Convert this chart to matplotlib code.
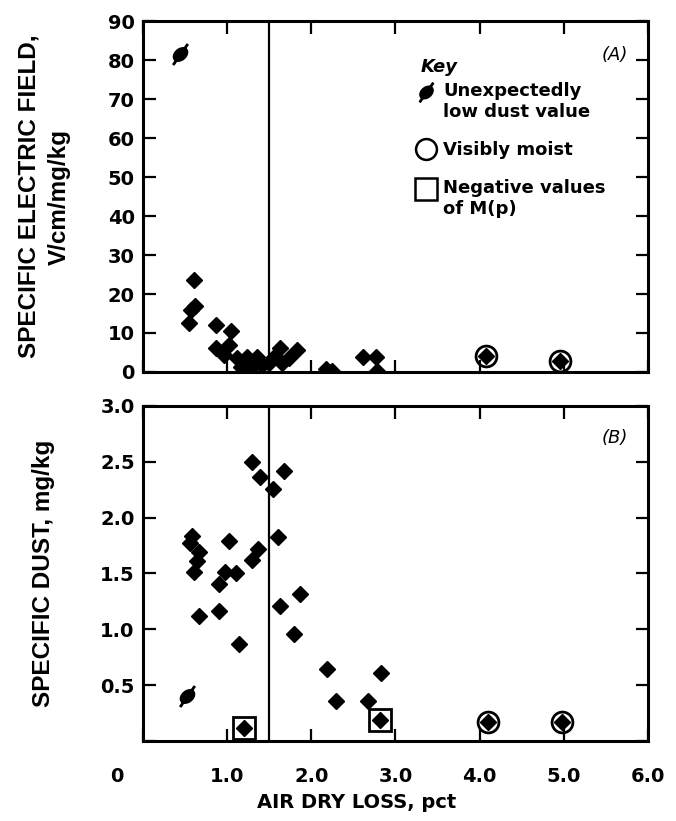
import numpy as np
import matplotlib.pyplot as plt
from matplotlib.path import Path
from matplotlib.lines import Line2D
from matplotlib.legend_handler import HandlerLine2D
import matplotlib.transforms as mtransforms

# --- Panel A: specific electric field, V/cm/mg/kg ---
field_x = [0.61, 0.57, 0.62, 0.55, 0.87, 1.04, 0.87, 1.02, 0.96, 1.12, 1.24,
           1.35, 1.16, 1.30, 1.42, 1.50, 1.56, 1.63, 1.65, 1.74, 1.83, 2.17,
           2.25, 2.62, 2.77, 2.78]
field_y = [23.5, 16, 17, 12.5, 12, 10.5, 6.2, 7.0, 4.4, 3.6, 3.9,
           3.9, 1.3, 1.3, 1.8, 2.3, 3.9, 6.1, 2.3, 3.6, 5.6, 0.8,
           0.2, 3.9, 3.9, 0.3]
field_low_x = [0.44]
field_low_y = [81.5]
field_moist_x = [4.07, 4.96]
field_moist_y = [4.0, 2.8]

# --- Panel B: specific dust, mg/kg ---
dust_x = [0.58, 0.56, 0.66, 0.64, 0.61, 0.66, 0.90, 0.90, 0.98, 1.02, 1.11,
          1.14, 1.30, 1.37, 1.30, 1.39, 1.55, 1.68, 1.60, 1.63, 1.86, 1.80,
          2.19, 2.29, 2.67, 2.83]
dust_y = [1.84, 1.77, 1.69, 1.61, 1.51, 1.12, 1.16, 1.41, 1.51, 1.79, 1.50,
          0.87, 1.62, 1.72, 2.50, 2.36, 2.26, 2.42, 1.83, 1.21, 1.32, 0.96,
          0.64, 0.36, 0.36, 0.61]
dust_low_x = [0.52]
dust_low_y = [0.40]
dust_neg_x = [1.20, 2.82]
dust_neg_y = [0.12, 0.19]
dust_moist_x = [4.10, 4.98]
dust_moist_y = [0.17, 0.17]

x_ticks = [0, 1, 2, 3, 4, 5, 6]
x_labels = ["0", "1.0", "2.0", "3.0", "4.0", "5.0", "6.0"]
field_ticks = [0, 10, 20, 30, 40, 50, 60, 70, 80, 90]
dust_ticks = [0, 0.5, 1.0, 1.5, 2.0, 2.5, 3.0]
dust_labels = ["", "0.5", "1.0", "1.5", "2.0", "2.5", "3.0"]
dry_loss_limit = 1.5

plt.rcParams["font.family"] = "DejaVu Sans"
plt.rcParams["font.weight"] = "bold"

# slashed oval symbol for "unexpectedly low dust value"
t = np.linspace(0, 2 * np.pi, 40)
oval = np.column_stack([np.cos(t), 0.7 * np.sin(t)])
rot = np.array([[np.cos(0.7), -np.sin(0.7)], [np.sin(0.7), np.cos(0.7)]])
oval = oval @ rot.T
slash = np.array([[-0.95, -1.2], [-0.8, -1.3], [0.95, 1.2], [0.8, 1.3], [-0.95, -1.2]])
slash_marker = Path.make_compound_path(Path(oval, closed=True), Path(slash, closed=True))

fig = plt.figure(figsize=(6.76, 8.21), dpi=100)
axA = fig.add_axes([0.2115, 0.547, 0.747, 0.427])
axB = fig.add_axes([0.2115, 0.0975, 0.747, 0.408])

diamond = dict(marker="D", ms=8, color="black", ls="none")

axA.plot(field_x, field_y, **diamond)
axA.plot(field_moist_x, field_moist_y, **diamond)
axA.plot(field_moist_x, field_moist_y, marker="o", ms=15, mfc="none", mec="black", mew=2, ls="none")
axA.plot(field_low_x, field_low_y, marker=slash_marker, ms=15, color="black", ls="none")

axB.plot(dust_x, dust_y, **diamond)
axB.plot(dust_neg_x, dust_neg_y, **diamond)
axB.plot(dust_neg_x, dust_neg_y, marker="s", ms=16, mfc="none", mec="black", mew=2, ls="none")
axB.plot(dust_moist_x, dust_moist_y, **diamond)
axB.plot(dust_moist_x, dust_moist_y, marker="o", ms=15, mfc="none", mec="black", mew=2, ls="none")
axB.plot(dust_low_x, dust_low_y, marker=slash_marker, ms=15, color="black", ls="none")

for ax in (axA, axB):
    ax.axvline(dry_loss_limit, color="black", lw=1.6)
    ax.set_xlim(0, 6)
    ax.set_xticks(x_ticks)
    for s in ax.spines.values():
        s.set_linewidth(2.2)
    ax.tick_params(direction="in", length=9, width=1.6, top=True, right=True,
                   labelsize=14, pad=6)

axA.set_ylim(0, 90)
axA.set_yticks(field_ticks)
axA.set_yticklabels([str(v) for v in field_ticks], fontweight="bold")
axA.tick_params(axis="x", labelbottom=False)

axB.set_ylim(0, 3.0)
axB.set_yticks(dust_ticks)
axB.set_yticklabels(dust_labels, fontweight="bold")
axB.set_xticklabels(x_labels, fontweight="bold")
axB.tick_params(axis="x", pad=19)
# the "0" of the x axis sits left of the frame
zero = axB.get_xticklabels()[0]
zero.set_transform(zero.get_transform() + mtransforms.ScaledTranslation(-26 / 100, 0, fig.dpi_scale_trans))

ylab = dict(family="Liberation Sans", fontweight="bold", fontsize=17.5,
            va="center", ha="center", linespacing=1.4)
axA.set_ylabel("SPECIFIC ELECTRIC FIELD,\nV/cm/mg/kg", **ylab)
axB.set_ylabel("SPECIFIC DUST, mg/kg", **ylab)
axA.yaxis.set_label_coords(-0.196, 0.5)
axB.yaxis.set_label_coords(-0.196, 0.5)
axB.set_xlabel("AIR DRY LOSS, pct", fontsize=14, fontweight="bold")
axB.xaxis.set_label_coords(0.424, -0.155)

axA.text(0.96, 0.905, "(A)", transform=axA.transAxes, ha="right", va="center",
         fontsize=13, fontweight="normal", style="italic")
axB.text(0.96, 0.905, "(B)", transform=axB.transAxes, ha="right", va="center",
         fontsize=13, fontweight="normal", style="italic")
axA.text(0.549, 0.869, "Key", transform=axA.transAxes, ha="left", va="center",
         fontsize=13, style="italic")


class FirstLineHandler(HandlerLine2D):
    # keep the symbol beside the first line of a two-line label
    def create_artists(self, legend, orig_handle, xdescent, ydescent, width,
                       height, fontsize, trans):
        arts = super().create_artists(legend, orig_handle, xdescent, ydescent,
                                      width, height, fontsize, trans)
        for a in arts:
            a.set_ydata(np.asarray(a.get_ydata()) + 0.55 * fontsize)
        return arts


h_low = Line2D([], [], marker=slash_marker, ms=14, color="black", ls="none")
h_moist = Line2D([], [], marker="o", ms=15, mfc="none", mec="black", mew=1.8, ls="none")
h_neg = Line2D([], [], marker="s", ms=16, mfc="none", mec="black", mew=1.8, ls="none")
leg = axA.legend([h_low, h_moist, h_neg],
                 ["Unexpectedly\nlow dust value", "Visibly moist", "Negative values\nof M(p)"],
                 handler_map={h_low: FirstLineHandler(), h_neg: FirstLineHandler()},
                 loc="upper left", bbox_to_anchor=(0.543, 0.826), frameon=False,
                 alignment="left", handlelength=1.0, handletextpad=0.45,
                 labelspacing=1.1, borderpad=0, borderaxespad=0,
                 prop=dict(size=13, weight="bold"))

fig.savefig("out.png", dpi=100)
